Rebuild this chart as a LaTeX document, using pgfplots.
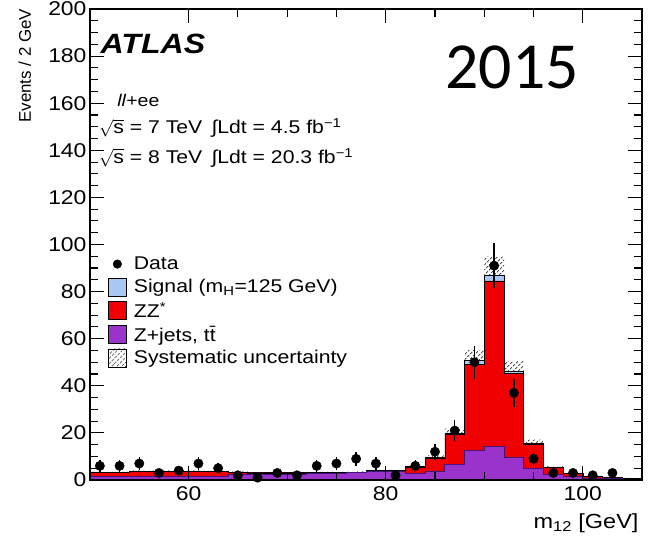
\documentclass[border=0pt]{standalone}
\usepackage{fontspec}
\setmainfont{Liberation Sans}[FakeStretch=1.15]
\newfontfamily\plainsans{Liberation Sans}
\newfontfamily\yearfont{Carlito}
\usepackage{pgfplots}
\pgfplotsset{compat=1.18}
\usepackage{pgfplotstable}
\usepgfplotslibrary{fillbetween}
\usetikzlibrary{patterns,patterns.meta}

\definecolor{zjets}{RGB}{153,51,204}
\definecolor{zjetsline}{RGB}{70,20,120}
\definecolor{zzred}{RGB}{240,0,0}
\definecolor{signal}{RGB}{170,200,245}
\tikzset{syshatch/.style={pattern={Lines[angle=45, distance=3.6bp, line width=1.1bp]},
  pattern color=black!70}}

% 2 GeV bins: low edge, stacked tops (Z+jets, +ZZ*, +signal), systematic band
\pgfplotstableread{
lo   zj    zz    tot   up    dn
50   1.3   3.1   3.15  3.45  2.85
52   1.3   3.1   3.15  3.45  2.85
54   1.3   3.7   3.75  4.05  3.45
56   1.3   3.7   3.75  4.05  3.45
58   1.3   3.7   3.75  4.05  3.45
60   1.3   3.7   3.75  4.05  3.45
62   1.3   3.5   3.55  3.85  3.25
64   2.3   3.3   3.35  3.65  3.05
66   2.3   3.0   3.05  3.35  2.75
68   2.3   3.0   3.05  3.35  2.75
70   2.5   3.0   3.05  3.35  2.75
72   2.7   3.1   3.15  3.45  2.85
74   2.7   3.1   3.15  3.45  2.85
76   3.0   3.3   3.35  3.65  3.05
78   3.7   4.0   4.05  4.35  3.75
80   3.5   4.0   4.05  4.35  3.75
82   2.7   5.5   5.6   6.0   5.2
84   3.7   9.4   9.7   10.5  8.9
86   6.5   19.2  20.0  21.8  18.2
88   12.6  49.0  50.6  55.2  46.0
90   14.3  84.5  86.8  94.8  78.8
92   9.6   45.2  46.3  50.6  42.0
94   4.8   15.3  15.6  17.1  14.1
96   2.2   5.3   5.4   5.9   4.9
98   1.5   2.7   2.75  3.05  2.45
100  0.8   1.5   1.55  1.75  1.35
102  0.5   0.9   0.95  1.05  0.85
104  0.4   0.7   0.75  0.85  0.65
106  0.4   0.7   0.75  0.85  0.65
}\hist

% observed events per bin centre with statistical errors
\pgfplotstableread{
c    n    en
51   6    2.45
53   6    2.45
55   7    2.65
57   3    1.73
59   4    2.00
61   7    2.65
63   5    2.24
65   2    1.41
67   1    1.00
69   3    1.73
71   2    1.41
73   6    2.45
75   7    2.65
77   9    3.00
79   7    2.65
81   2    1.41
83   6    2.45
85   12   3.46
87   21   4.58
89   50   7.07
91   91   9.54
93   37   6.08
95   9    3.00
97   3    1.73
99   3    1.73
101  2    1.41
103  3    1.73
}\events

\begin{document}
\begin{tikzpicture}
\begin{axis}[
  at={(90bp,58bp)}, anchor=south west,
  scale only axis, width=552bp, height=471bp,
  xmin=50, xmax=106, ymin=0, ymax=200,
  xtick={60,80,100}, minor x tick num=3,
  ytick={0,20,...,200}, minor y tick num=3,
  tick align=inside,
  major tick length=14bp, minor tick length=8bp,
  tick style={black, line width=1.1bp},
  axis line style={black, line width=1.4bp},
  axis on top,
  /pgf/number format/assume math mode=true,
  ticklabel style={font=\fontsize{20}{22}\selectfont},
  xticklabel style={yshift=-3bp},
  xlabel={m\textsubscript{12} [GeV]},
  xlabel style={at={(axis description cs:1,0)}, anchor=east, yshift=-43bp, xshift=0bp,
    font=\fontsize{20.5}{22}\selectfont},
  ylabel={Events / 2 GeV},
  ylabel style={at={(axis description cs:-0.118,1.008)}, anchor=east,
    font=\plainsans\fontsize{17}{19}\selectfont},
  legend cell align=left,
  legend style={at={(rel axis cs:0.032,0.478)}, anchor=north west,
    draw=none, fill=none, inner sep=0pt, row sep=4.5bp,
    font=\fontsize{18.5}{20}\selectfont,
    nodes={inner sep=1.5bp}},
]
\addlegendimage{legend image code/.code={
  \path[draw=none, fill=none] (0bp,-9bp) rectangle (24bp,9bp);
  \fill[black] (9bp,0bp) circle (4.3bp);}}
\addlegendentry{Data}
\addlegendimage{legend image code/.code={
  \path[draw=none, fill=none] (0bp,-9bp) rectangle (24bp,9bp);
  \draw[fill=signal, line width=1bp] (0bp,-9bp) rectangle (18bp,9bp);}}
\addlegendentry{Signal (m\textsubscript{H}=125 GeV)}
\addlegendimage{legend image code/.code={
  \path[draw=none, fill=none] (0bp,-9bp) rectangle (24bp,9bp);
  \draw[fill=zzred, line width=1bp] (0bp,-9bp) rectangle (18bp,9bp);}}
\addlegendentry{ZZ\textsuperscript{*}}
\addlegendimage{legend image code/.code={
  \path[draw=none, fill=none] (0bp,-9bp) rectangle (24bp,9bp);
  \draw[fill=zjets, line width=1bp] (0bp,-9bp) rectangle (18bp,9bp);}}
\addlegendentry{Z+jets, t\=t}
\addlegendimage{legend image code/.code={
  \path[draw=none, fill=none] (0bp,-9bp) rectangle (24bp,9bp);
  \fill[syshatch] (0bp,-9bp) rectangle (18bp,9bp);}}
\addlegendentry{Systematic uncertainty}

% stacked expectation, drawn from the outermost level inwards
\addplot[const plot, fill=signal, draw=black, line width=0.7bp, forget plot]
  table[x=lo, y=tot] {\hist} \closedcycle;
\addplot[const plot, fill=zzred, draw=black, line width=0.7bp, forget plot]
  table[x=lo, y=zz] {\hist} \closedcycle;
\addplot[const plot, fill=zjets, draw=zjetsline, line width=0.9bp, forget plot]
  table[x=lo, y=zj] {\hist} \closedcycle;

% systematic band around the total expectation
\addplot[const plot, draw=none, name path=bandup, forget plot] table[x=lo, y=up] {\hist};
\addplot[const plot, draw=none, name path=banddn, forget plot] table[x=lo, y=dn] {\hist};
\addplot[syshatch, draw=none, forget plot]
  fill between[of=bandup and banddn];

% data
\addplot[only marks, mark=*, mark size=4.7bp, black, forget plot,
  error bars/.cd, y dir=both, y explicit, error mark=none,
  error bar style={line width=1.4bp, black}]
  table[x=c, y=n, y error=en] {\events};

\node[anchor=west, font=\fontsize{28}{30}\selectfont\bfseries\itshape]
  at (rel axis cs:0.013,0.926) {ATLAS};
\node[anchor=west, font=\fontsize{17}{19}\selectfont]
  at (rel axis cs:0.043,0.805) {\textit{ll}+ee};
\node[anchor=west, font=\fontsize{18.5}{20}\selectfont, inner sep=0pt]
  at (rel axis cs:0.016,0.747) {$\sqrt{\mbox{s}}$ = 7 TeV\enspace ∫Ldt = 4.5 fb\textsuperscript{−1}};
\node[anchor=west, font=\fontsize{18.5}{20}\selectfont, inner sep=0pt]
  at (rel axis cs:0.016,0.684) {$\sqrt{\mbox{s}}$ = 8 TeV\enspace ∫Ldt = 20.3 fb\textsuperscript{−1}};
\node[font=\yearfont\fontsize{66}{68}\selectfont]
  at (rel axis cs:0.7645,0.875) {2015};
\end{axis}
\pgfresetboundingbox
\useasboundingbox (0,0) rectangle (652bp,538bp);
\end{tikzpicture}
\end{document}
